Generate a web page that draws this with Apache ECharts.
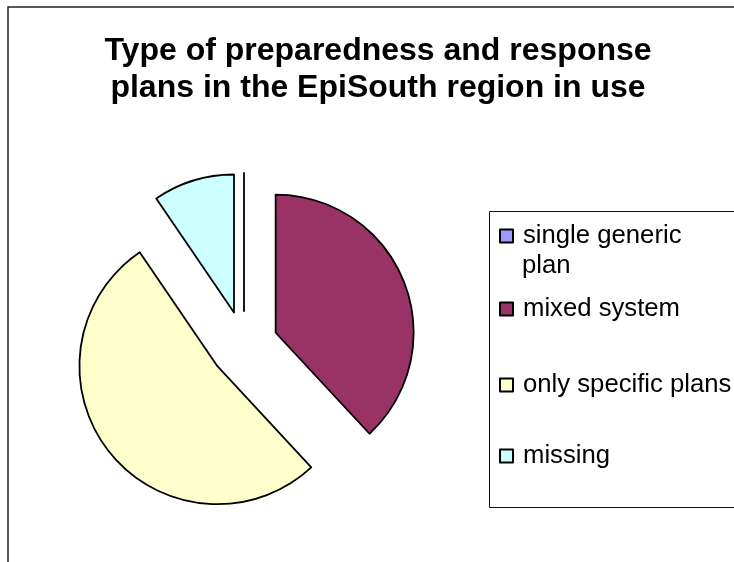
<!DOCTYPE html>
<html>
<head>
<meta charset="utf-8">
<script src="https://cdn.jsdelivr.net/npm/echarts@6/dist/echarts.min.js"></script>
<style>
  html, body { margin: 0; padding: 0; background: #fff; }
  #chart { width: 734px; height: 562px; }
</style>
</head>
<body>
<div id="chart"></div>
<script>
const titleText = 'Type of preparedness and response\nplans in the EpiSouth region in use';
const categories = ['single generic plan', 'mixed system', 'only specific plans', 'missing'];
const values = [0, 8, 11, 2];
const colors = ['#9999FF', '#993366', '#FFFFCC', '#CCFFFF'];
const legendCenters = [236, 309, 385, 456];
// the first legend entry wraps onto a second line in the original
const legendFirstLines = ['single generic', 'mixed system', 'only specific plans', 'missing'];
const legendSecondLines = ['plan', '', '', ''];

const FONT = "'Liberation Sans', Arial, Helvetica, sans-serif";
const LEGEND_FONT_SIZE = 25.7;
const LEGEND_LINE = 30;
const chart = echarts.init(document.getElementById('chart'), null, { renderer: 'canvas' });

const legends = categories.map((name, i) => ({
  data: [name],
  orient: 'vertical',
  left: 499,
  top: legendCenters[i] - LEGEND_LINE / 2,
  padding: 0,
  itemWidth: 13,
  itemHeight: 13,
  icon: 'rect',
  selectedMode: false,
  formatter: function () { return legendFirstLines[i]; },
  textStyle: {
    fontFamily: FONT,
    fontSize: LEGEND_FONT_SIZE,
    color: '#000',
    lineHeight: LEGEND_LINE,
    padding: [0, 0, 0, 5]
  }
}));

const extraTexts = [];
legendSecondLines.forEach((t, i) => {
  if (!t) return;
  extraTexts.push({
    type: 'text',
    silent: true,
    x: 522,
    y: legendCenters[i] + LEGEND_LINE,
    style: {
      text: t,
      fontFamily: FONT,
      fontSize: LEGEND_FONT_SIZE,
      fill: '#000',
      align: 'left',
      verticalAlign: 'middle'
    }
  });
});

const option = {
  animation: false,
  backgroundColor: '#fff',
  title: {
    text: titleText,
    left: 378,
    top: 33,
    padding: 0,
    textAlign: 'center',
    textStyle: {
      fontFamily: FONT,
      fontSize: 32,
      fontWeight: 'bold',
      color: '#000',
      lineHeight: 37
    }
  },
  legend: legends,
  graphic: [
    {
      type: 'rect',
      silent: true,
      shape: { x: 8, y: 7, width: 900, height: 900 },
      style: { fill: 'none', stroke: '#222', lineWidth: 1.5 }
    },
    {
      type: 'rect',
      silent: true,
      shape: { x: 489.5, y: 211.5, width: 300, height: 296 },
      style: { fill: 'none', stroke: '#111', lineWidth: 1 }
    }
  ].concat(extraTexts),
  series: [{
    type: 'pie',
    center: [244, 345],
    radius: 138,
    startAngle: 90,
    clockwise: true,
    selectedMode: 'multiple',
    selectedOffset: 34,
    avoidLabelOverlap: false,
    label: { show: false },
    labelLine: { show: false },
    emphasis: { disabled: true },
    itemStyle: { borderColor: '#000', borderWidth: 1.8 },
    data: categories.map((name, i) => ({
      name: name,
      value: values[i],
      selected: true,
      itemStyle: { color: colors[i] }
    }))
  }]
};
chart.setOption(option);
</script>
</body>
</html>
